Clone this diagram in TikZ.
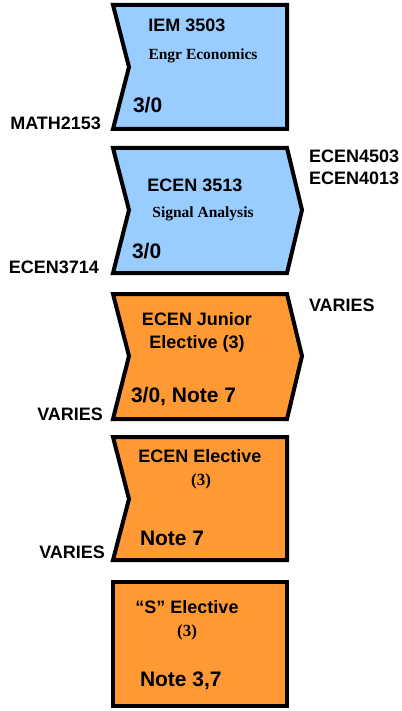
\documentclass[tikz,border=0pt]{standalone}
\usepackage{fontspec}
\setmainfont{Liberation Serif}
\setsansfont{Liberation Sans}
\usepackage{tikz}
\definecolor{coreblue}{RGB}{153,204,255}
\definecolor{elecorange}{RGB}{255,153,51}

\begin{document}
\begin{tikzpicture}[x=1pt,y=-1pt,line width=4pt,
	core/.style={draw=black,fill=coreblue},
	elec/.style={draw=black,fill=elecorange},
	lbl/.style={inner sep=0pt,font=\sffamily\bfseries\fontsize{18}{21}\selectfont},
	hrs/.style={inner sep=0pt,font=\sffamily\bfseries\fontsize{21}{24}\selectfont},
	sub/.style={inner sep=0pt,font=\rmfamily\bfseries\fontsize{15.5}{18}\selectfont},
	cred/.style={inner sep=0pt,font=\rmfamily\bfseries\fontsize{17}{20}\selectfont}]
	\useasboundingbox (0,0) rectangle (401,711);

	% course blocks, top to bottom
	\draw [core]	(113,5) -- (287,5) -- (287,129) -- (113,129) -- (129,67) -- cycle;
	\draw [core]	(113,148) -- (287,148) -- (302,210) -- (287,273) -- (113,273) -- (129,210) -- cycle;
	\draw [elec]	(113,294) -- (287,294) -- (302,356) -- (287,419) -- (113,419) -- (129,356) -- cycle;
	\draw [elec]	(113,437) -- (287,437) -- (287,560) -- (113,560) -- (129,499) -- cycle;
	\draw [elec]	(113,582) rectangle (287,706);

	% IEM 3503
	\node [lbl, anchor=base]		(iem)		at (187,32)		{IEM 3503};
	\node [sub, anchor=base]		(iemname)	at (203,60)		{Engr Economics};
	\node [hrs, anchor=base west]	(iemhrs)	at (131,113)	{3/0};
	\node [lbl, anchor=base east]	(iempre)	at (103,130)	{MATH2153};

	% ECEN 3513
	\node [lbl, anchor=base]		(sig)		at (195,192)	{ECEN 3513};
	\node [sub, anchor=base]		(signame)	at (203,218)	{Signal Analysis};
	\node [hrs, anchor=base west]	(sighrs)	at (130,258)	{3/0};
	\node [lbl, anchor=base east]	(sigpre)	at (101,273)	{ECEN3714};
	\node [lbl, anchor=base west]	(sigpostA)	at (307,163)	{ECEN4503};
	\node [lbl, anchor=base west]	(sigpostB)	at (307,185)	{ECEN4013};

	% junior elective
	\node [lbl, anchor=base]		(jun)		at (197,325)	{ECEN Junior};
	\node [lbl, anchor=base]		(junname)	at (197,348)	{Elective (3)};
	\node [hrs, anchor=base west]	(junhrs)	at (129,402)	{3/0, Note 7};
	\node [lbl, anchor=base east]	(junpre)	at (105,420)	{VARIES};
	\node [lbl, anchor=base west]	(junpost)	at (307,311)	{VARIES};

	% ECEN elective
	\node [lbl, anchor=base]		(ele)		at (200,462)	{ECEN Elective};
	\node [cred, anchor=base]		(elecr)		at (201,485)	{(3)};
	\node [hrs, anchor=base west]	(elenote)	at (138,545)	{Note 7};
	\node [lbl, anchor=base east]	(elepre)	at (107,558)	{VARIES};

	% "S" elective
	\node [lbl, anchor=base]		(sel)		at (187,613)	{“S” Elective};
	\node [cred, anchor=base]		(selcr)		at (187,636)	{(3)};
	\node [hrs, anchor=base west]	(selnote)	at (138,686)	{Note 3,7};
\end{tikzpicture}
\end{document}
